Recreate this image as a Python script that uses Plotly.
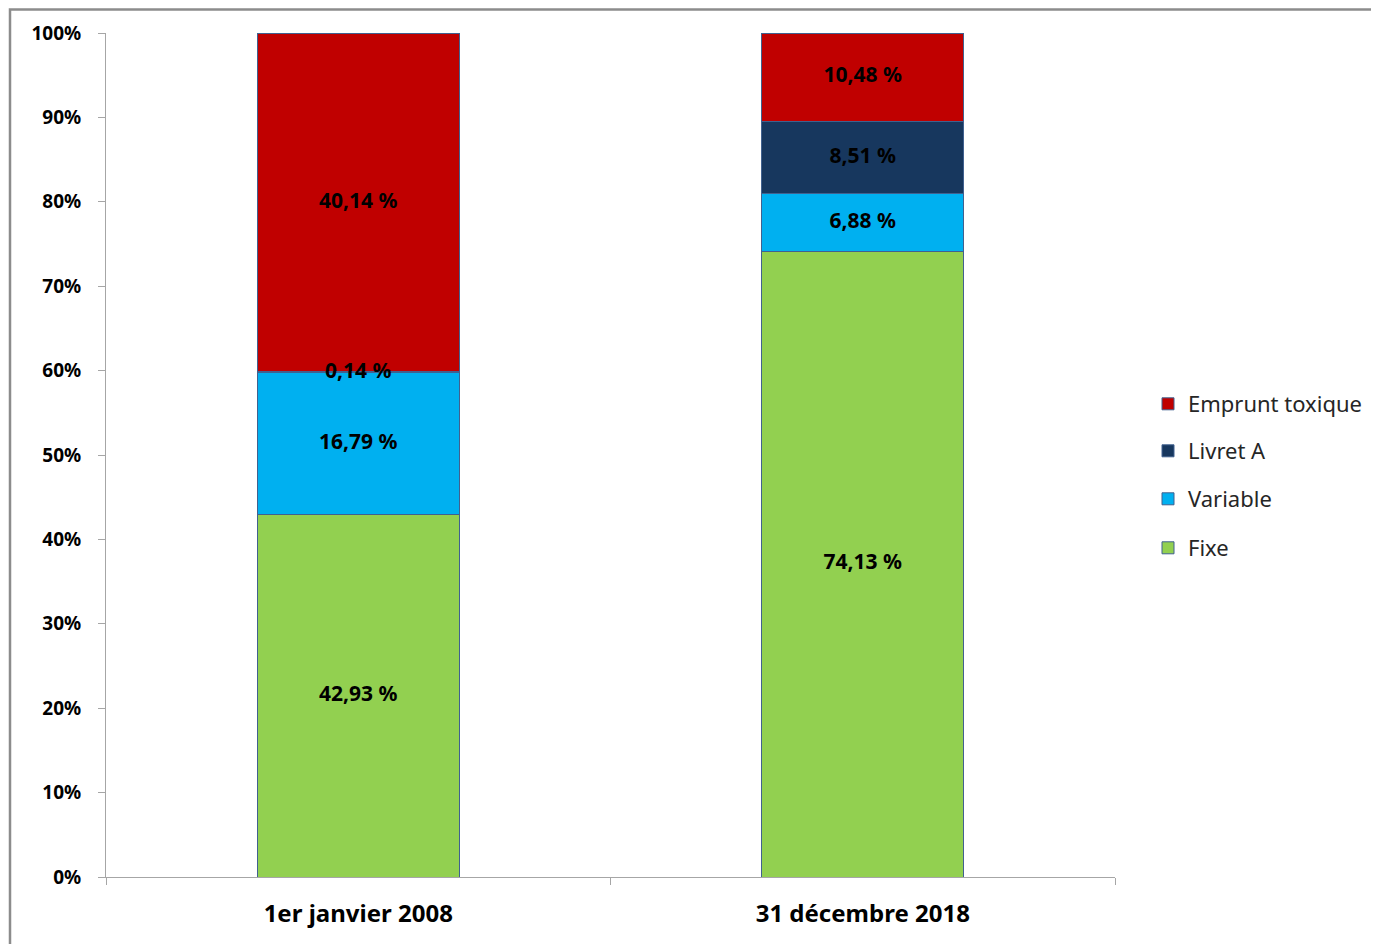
import plotly.graph_objects as go

# Répartition de l'encours de dette par type de taux
categories = ["1er janvier 2008", "31 décembre 2018"]
fixe = [42.93, 74.13]
variable = [16.79, 6.88]
livret_a = [0.14, 8.51]
toxique = [40.14, 10.48]

series = [
    ("Fixe", fixe, "#92D050"),
    ("Variable", variable, "#00B0F0"),
    ("Livret A", livret_a, "#17375E"),
    ("Emprunt toxique", toxique, "#C00000"),
]

FONT = "Noto Sans"

# la page html a une marge de 8 px : on travaille en coordonnées figure
W, H = 1371, 936
L, R, T, B = 98, 264, 25, 67
PW, PH = W - L - R, H - T - B


def fmt(v):
    return f"{v:.2f}".replace(".", ",") + " %"


def xpaper(px):
    return (px - 8 - L) / PW


def ypaper(py):
    return (H - B - (py - 8)) / PH


fig = go.Figure()

legend_ids = {"Emprunt toxique": "legend", "Livret A": "legend2",
              "Variable": "legend3", "Fixe": "legend4"}

for name, vals, color in series:
    fig.add_trace(go.Bar(
        x=categories,
        y=vals,
        name=name,
        marker=dict(color=color, line=dict(color="#41618F", width=1)),
        hoverinfo="name+y",
        legend=legend_ids[name],
    ))

# étiquettes de valeur au milieu de chaque segment
lab_x, lab_y, lab_t = [], [], []
for i, cat in enumerate(categories):
    base = 0
    for name, vals, color in series:
        lab_x.append(cat)
        lab_y.append(base + vals[i] / 2)
        lab_t.append(fmt(vals[i]))
        base += vals[i]

fig.add_trace(go.Scatter(
    x=lab_x, y=lab_y, text=lab_t,
    mode="text",
    textposition="middle center",
    textfont=dict(family=FONT, size=21, color="black", weight="bold"),
    cliponaxis=False,
    showlegend=False,
    hoverinfo="skip",
))

legend_style = dict(
    x=xpaper(1148), xanchor="left", yanchor="middle",
    font=dict(family=FONT, size=22, color="#262626"),
    bgcolor="rgba(0,0,0,0)",
    itemwidth=30,
    itemclick=False,
)

fig.update_layout(
    barmode="stack",
    bargap=0.6,
    width=W,
    height=H,
    margin=dict(l=L, r=R, t=T, b=B),
    paper_bgcolor="white",
    plot_bgcolor="white",
    showlegend=True,
    legend=dict(legend_style, y=ypaper(404)),
    legend2=dict(legend_style, y=ypaper(451)),
    legend3=dict(legend_style, y=ypaper(499)),
    legend4=dict(legend_style, y=ypaper(548)),
)

fig.update_yaxes(
    range=[0, 100],
    tickvals=list(range(0, 101, 10)),
    ticktext=[f"{v}%" for v in range(0, 101, 10)],
    showgrid=False,
    zeroline=False,
    showline=True,
    linecolor="#A6A6A6",
    linewidth=1,
    ticks="outside",
    ticklen=7,
    tickcolor="#A6A6A6",
    ticklabelstandoff=13,
    tickfont=dict(family=FONT, size=19, color="black", weight="bold"),
)

fig.update_xaxes(
    showgrid=False,
    showline=True,
    linecolor="#A6A6A6",
    linewidth=1,
    ticks="outside",
    tickson="boundaries",
    ticklen=7,
    tickcolor="#A6A6A6",
    ticklabelstandoff=15,
    tickfont=dict(family=FONT, size=24, color="black", weight="bold"),
)

# cadre gris de la zone de graphique (haut et gauche visibles)
fig.add_shape(
    type="rect", xref="paper", yref="paper",
    x0=(2 - L) / PW, x1=(W + 10 - L) / PW,
    y0=(H - B - (H + 10)) / PH, y1=(H - B - 1.5) / PH,
    line=dict(color="#8C8C8C", width=2.5),
    fillcolor="rgba(0,0,0,0)",
    layer="below",
)

fig.write_html("out.html")
